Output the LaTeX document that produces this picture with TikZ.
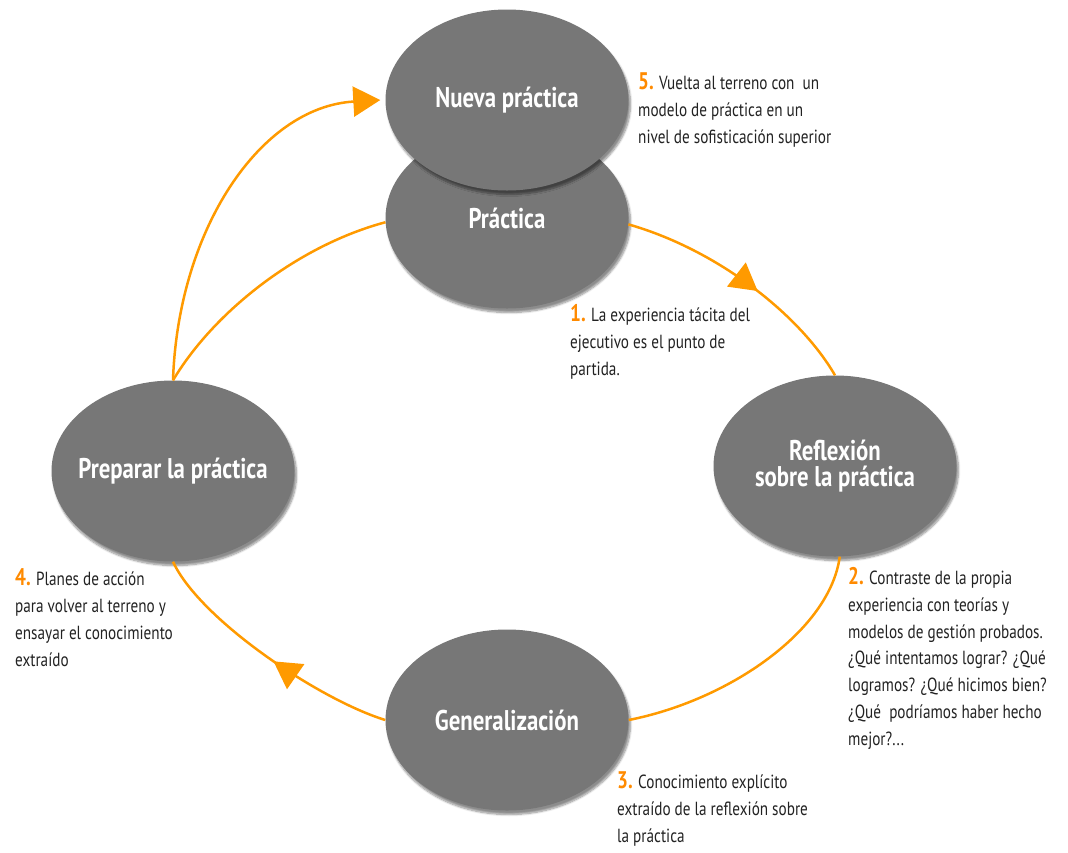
\documentclass[tikz,border=0pt]{standalone}
\usepackage{fontspec}
\setmainfont{PT Sans}[FakeStretch=0.8]
\usetikzlibrary{shapes.geometric,arrows.meta,decorations.markings,shadows.blur}
\definecolor{blobgray}{HTML}{777777}
\definecolor{arcorange}{HTML}{FF9A00}
\definecolor{numorange}{HTML}{FF8A00}
\definecolor{txtgray}{HTML}{222222}
\tikzset{
  blob/.style={ellipse,fill=blobgray,minimum width=243pt,minimum height=181pt,inner sep=0pt,
    text=white,font=\fontsize{28.5}{25.5}\selectfont\bfseries,align=center,
    blur shadow={shadow xshift=2pt,shadow yshift=-4pt,shadow blur steps=8,shadow opacity=45}},
  conn/.style={draw=arcorange,line width=2.5pt},
  midarrow/.style={postaction={decorate,decoration={markings,
    mark=at position #1 with {\arrow[arcorange]{Triangle[length=27pt,width=30pt]}}}}},
  note/.style={anchor=base west,inner sep=0pt,align=left,text=txtgray,
    font=\fontsize{19}{26.7}\selectfont},
}
\newcommand{\num}[1]{{\color{numorange}\fontsize{24}{22}\selectfont\bfseries #1}}
\begin{document}
\begin{tikzpicture}[x=1pt,y=-1pt]
\useasboundingbox (0,0) rectangle (1068,852);
% nodes
\node[blob] (prac) at (507,218) {Práctica};
\node[blob] (nueva) at (507,100) {Nueva práctica};
\node[blob] (refl) at (835,466) {Reflexión\\sobre la práctica};
\node[blob] (prep) at (173,471) {\makebox[0pt]{Preparar la práctica}};
\node[blob] (gen) at (507,720) {Generalización};
% connectors
\draw[conn,midarrow=0.56] (prac.-3) .. controls (718,250) and (800,315) .. (refl.north);
\draw[conn] (refl.-87) .. controls (830,630) and (730,700) .. (gen.east);
\draw[conn,midarrow=0.47] (gen.west) .. controls (320,700) and (200,620) .. (prep.south);
\draw[conn] (prep.north) .. controls (215,310) and (300,245) .. (prac.182);
\draw[conn,-{Triangle[length=27pt,width=30pt]}] (prep.north) .. controls (178,230) and (260,107) .. ([xshift=-5pt]nueva.west);
% notes (anchor = baseline of last line)
\node[note] (n5) at (638,143) {\num{5.} Vuelta al terreno con\ \ un\\modelo de práctica en un\\nivel de sofisticación superior};
\node[note] (n1) at (570,375) {\num{1.} La experiencia tácita del\\ejecutivo es el punto de\\partida.};
\node[note] (n2) at (848,745) {\num{2.} Contraste de la propia\\experiencia con teorías y\\modelos de gestión probados.\\¿Qué intentamos lograr? ¿Qué\\logramos? ¿Qué hicimos bien?\\¿Qué\ \ podríamos haber hecho\\mejor?...};
\node[note] (n3) at (617,842) {\num{3.} Conocimiento explícito\\extraído de la reflexión sobre\\la práctica};
\node[note] (n4) at (15,666) {\num{4.} Planes de acción\\para volver al terreno y\\ensayar el conocimiento\\extraído};
\end{tikzpicture}
\end{document}
